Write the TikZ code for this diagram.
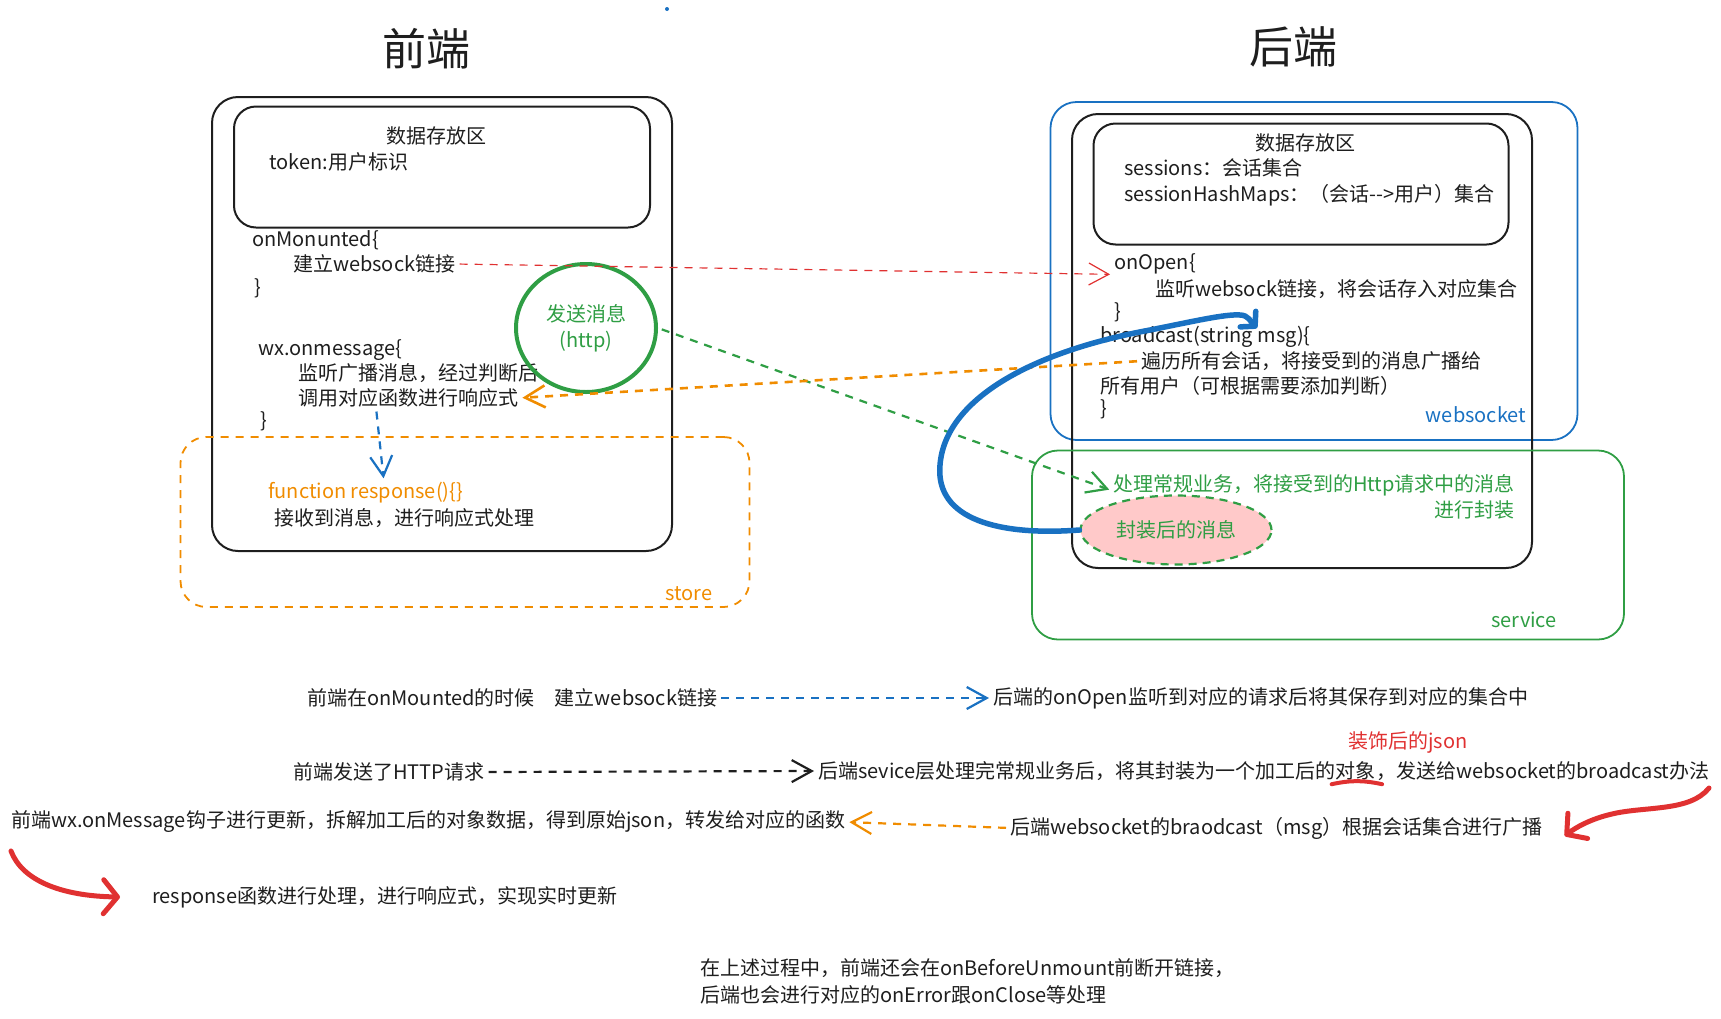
\documentclass[tikz,border=0pt]{standalone}
\usepackage{fontspec}
\usepackage{tikz}
\usetikzlibrary{
    arrows.meta,
    positioning,
    calc,
    shapes.geometric
}
\newfontfamily\cjk{Noto Sans CJK SC}
\definecolor{InkBlack}{HTML}{1E1E1E}
\definecolor{SketchRed}{HTML}{E03131}
\definecolor{SketchGreen}{HTML}{2F9E44}
\definecolor{SketchBlue}{HTML}{1971C2}
\definecolor{SketchOrange}{HTML}{F08C00}
\definecolor{SoftPink}{HTML}{FFC9C9}
\tikzset{
  panel/.style   = {draw=InkBlack, line width=2pt, rounded corners=26pt},
  zone/.style    = {panel, line width=1.8pt},
  txt/.style     = {font=\cjk\fontsize{20}{26}\selectfont, text=InkBlack,
                    inner sep=0pt, anchor=west},
  heading/.style = {font=\cjk\fontsize{44}{50}\selectfont, text=InkBlack},
  link/.style    = {line width=2.2pt, dash pattern=on 8pt off 7pt,
                    shorten <=4pt, shorten >=4pt,
                    -{Straight Barb[length=20pt,width=22pt]}},
  pen/.style     = {line width=5pt, line cap=round, line join=round}
}

\begin{document}
\begin{tikzpicture}[
    x=1pt, y=-1pt,
    bubble/.style={ellipse, inner sep=0pt, align=center,
                   font=\cjk\fontsize{20}{26}\selectfont, text=SketchGreen}
]
\useasboundingbox (0,0) rectangle (1721,1018);
\fill[SketchBlue] (667,9) circle (2pt);

\node[heading] (feTitle) at (426,49) {前端};
\node[heading] (beTitle) at (1293,47) {后端};

\node[panel, minimum width=460pt, minimum height=454pt] (fe) at (442,324) {};
\node[panel, rounded corners=22pt, minimum width=416pt, minimum height=121pt] (feData) at (442,167) {};
\node[zone, draw=SketchOrange, dash pattern=on 8pt off 7pt,
      minimum width=569pt, minimum height=170pt] (feStore) at (465,522) {};

\node[txt, anchor=center] (feDataHd) at (436,136) {数据存放区};
\node[txt] (feToken) at (269,162) {token:用户标识};
\node[txt] (feMount) at (252,240) {onMonunted\{};
\node[txt] (feLink) at (293,264) {建立websock链接};
\node[txt] (feMountEnd) at (254,288) {\}};
\node[txt] (feOnMsg) at (258,350) {wx.onmessage\{};
\node[txt] (feListen) at (298,373) {监听广播消息，经过判断后};
\node[txt] (feCall) at (298,398) {调用对应函数进行响应式};
\node[txt] (feOnMsgEnd) at (260,421) {\}};
\node[txt, text=SketchOrange] (feFn) at (268,493) {function response()\{\}};
\node[txt] (feFnBody) at (274,518) {接收到消息，进行响应式处理};
\node[txt, text=SketchOrange, anchor=center] (feStoreTag) at (689,594) {store};
\node[bubble, draw=SketchGreen, line width=4pt, minimum width=140pt,
      minimum height=128pt] (feSend) at (586,328) {发送消息\\(http)};

\node[zone, draw=SketchBlue, minimum width=527pt, minimum height=338pt] (beWs) at (1314,271) {};
\node[panel, minimum width=460pt, minimum height=454pt] (be) at (1302,341) {};
\node[panel, rounded corners=22pt, minimum width=415pt, minimum height=121pt] (beData) at (1301,184) {};
\node[zone, draw=SketchGreen, minimum width=592pt, minimum height=189pt] (beSvc) at (1328,545) {};

\node[txt, anchor=center] (beDataHd) at (1305,143) {数据存放区};
\node[txt] (beSess) at (1124,168) {sessions：会话集合};
\node[txt] (beMap) at (1124,195) {sessionHashMaps：（会话-\kern0pt->用户）集合};
\node[txt] (beOpen) at (1114,264) {onOpen\{};
\node[txt] (beOpenBody) at (1155,289) {监听websock链接，将会话存入对应集合};
\node[txt] (beOpenEnd) at (1114,312) {\}};
\node[txt] (beCast) at (1100,337) {broadcast(string msg)\{};
\node[txt] (beCastA) at (1141,361) {遍历所有会话，将接受到的消息广播给};
\node[txt] (beCastB) at (1100,386) {所有用户（可根据需要添加判断）};
\node[txt] (beCastEnd) at (1100,409) {\}};
\node[txt, text=SketchBlue, anchor=center] (beWsTag) at (1476,415) {websocket};
\node[txt, text=SketchGreen, anchor=east, align=right] (beBiz) at (1515,497)
     {处理常规业务，将接受到的Http请求中的消息\\进行封装};
\node[bubble, draw=SketchGreen, line width=2.2pt, dash pattern=on 8pt off 6pt,
      fill=SoftPink, minimum width=191pt, minimum height=69pt] (bePacked) at (1176,530) {封装后的消息};
\node[txt, text=SketchGreen, anchor=center] (beSvcTag) at (1524,620) {service};

\draw[link, SketchRed, line width=1.2pt] (feLink.east) -- (beOpen.south west);
\draw[link, SketchGreen] (feSend.east) -- ([yshift=6pt]beBiz.west);
\draw[link, SketchOrange, line width=2.6pt] (beCastA.west) -- (feCall.east);
\draw[link, SketchBlue] ([xshift=78pt]feCall.south west) -- ([xshift=116pt]feFn.north west);
\draw[pen, SketchBlue, line width=5.5pt, -{Straight Barb[length=10pt,width=22pt,round]}]
    (bePacked.west) .. controls (1000,536) and (935,520) .. (940,465)
    .. controls (945,400) and (1030,352) .. (1150,330)
    .. controls (1195,321) and (1225,314) .. (1240,315)
    to[out=0,in=135] ([xshift=157pt,yshift=-2pt]beCast.north west);

\node[txt] (nMount) at (307,698) {前端在onMounted的时候　建立websock链接};
\node[txt] (nOpen) at (993,698) {后端的onOpen监听到对应的请求后将其保存到对应的集合中};
\node[txt] (nHttp) at (293,772) {前端发送了HTTP请求};
\node[txt] (nSvc) at (818,771) {后端sevice层处理完常规业务后，将其封装为一个加工后的};
\node[txt, anchor=base west] (nObj) at (nSvc.base east) {对象};
\node[txt, anchor=base west] (nSvcEnd) at (nObj.base east) {，发送给websocket的broadcast办法};
\node[txt, text=SketchRed, above=8pt of nObj, xshift=52pt] (nJson) {装饰后的json};
\node[txt] (nWx) at (11,822) {前端wx.onMessage钩子进行更新，拆解加工后的对象数据，得到原始json，转发给对应的函数};
\node[txt] (nCast) at (1010,828) {后端websocket的braodcast（msg）根据会话集合进行广播};
\node[txt] (nResp) at (152,897) {response函数进行处理，进行响应式，实现实时更新};
\node[txt, align=left, font=\cjk\fontsize{20}{27}\selectfont] (nNote) at (700,981)
     {在上述过程中，前端还会在onBeforeUnmount前断开链接，\\后端也会进行对应的onError跟onClose等处理};

\draw[link, SketchBlue] (nMount.east) -- (nOpen.west);
\draw[link, InkBlack] (nHttp.east) -- (nSvc.west);
\draw[link, SketchOrange] (nCast.west) -- (nWx.east);
\draw[pen, SketchRed, line width=4pt] ([xshift=-4pt,yshift=-4pt]nObj.south west)
    to[bend left=12] ([xshift=6pt,yshift=-4pt]nObj.south east);

\coordinate (hookR) at (1709,788);
\coordinate (hookL) at (11,851);
\draw[pen, SketchRed, -{Straight Barb[length=14pt,width=32pt,round]}]
    (hookR) .. controls (1690,812) and (1645,806) .. (1612,814)
    .. controls (1590,819) and (1575,828) .. ([xshift=22pt,yshift=-8pt]nCast.east);
\draw[pen, SketchRed, -{Straight Barb[length=14pt,width=34pt,round]}]
    (hookL) .. controls (22,880) and (60,896) .. ([xshift=-32pt]nResp.west);
\end{tikzpicture}
\end{document}
